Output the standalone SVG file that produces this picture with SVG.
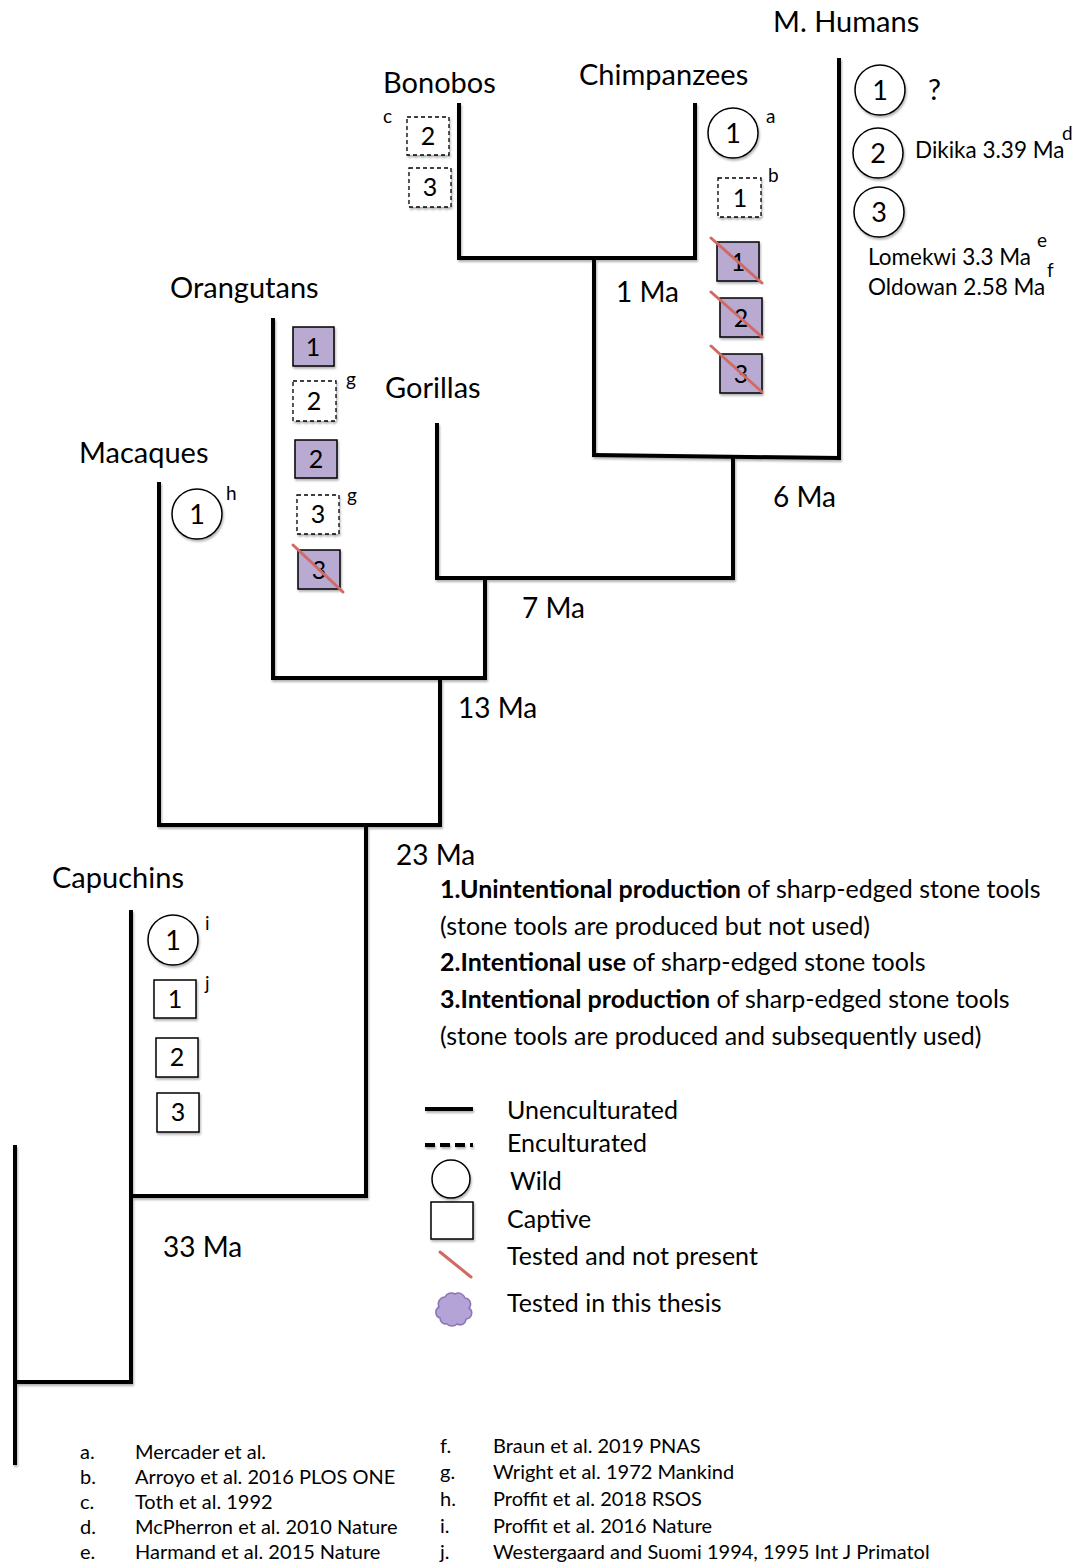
<svg xmlns="http://www.w3.org/2000/svg" width="1090" height="1566" viewBox="0 0 1090 1566">
<defs>
<filter id="sh" x="-20%" y="-20%" width="140%" height="140%">
<feDropShadow dx="1" dy="2" stdDeviation="1.2" flood-color="#000" flood-opacity="0.3"/>
</filter>
</defs>
<style>
text{font-family:Lato,"Noto Sans","Liberation Sans",sans-serif;fill:#000}
.sp{font-size:29px}
.age{font-size:28px}
.num{font-size:27px;text-anchor:middle}
.bn{font-size:25px;text-anchor:middle}
.sup{font-size:19px}
.small{font-size:22.5px}
.leg{font-size:25px}
.para{font-size:25px}
.fn{font-size:20px}
.tree{fill:none;stroke:#000;stroke-width:4;stroke-linecap:square}
.circ{fill:#fff;stroke:#000;stroke-width:1.5}
.solid{fill:#fff;stroke:#000;stroke-width:1.5}
.dash{fill:#fff;stroke:#000;stroke-width:1.3;stroke-dasharray:4 3}
.pur{fill:#b9aad2;stroke:#000;stroke-width:1.5}
.x{stroke:#d06a63;stroke-width:3;stroke-linecap:round}
</style>

<g id="connectors" filter="url(#sh)">
<path class="tree" d="M459,105 V258 H695 V105"/>
<path class="tree" d="M594,258 V455"/>
<path class="tree" d="M594,455 L839,458"/>
<path class="tree" d="M839,60 V458"/>
<path class="tree" d="M733,458 V578"/>
<path class="tree" d="M437,425 V578 H733"/>
<path class="tree" d="M485,578 V678"/>
<path class="tree" d="M273,320 V678 H485"/>
<path class="tree" d="M440,678 V825"/>
<path class="tree" d="M159,484 V825 H440"/>
<path class="tree" d="M366,825 V1196 H131"/>
<path class="tree" d="M131,912 V1382"/>
<path class="tree" d="M15,1147 V1463"/>
<path class="tree" d="M15,1382 H131"/>
</g>

<g id="humans">
<text class="sp" x="773" y="32">M. Humans</text>
<g filter="url(#sh)">
<circle class="circ" cx="880" cy="90" r="25"/>
<circle class="circ" cx="878" cy="153" r="25"/>
<circle class="circ" cx="879" cy="212" r="25"/>
</g>
<text class="num" x="880" y="100">1</text>
<text class="num" x="878" y="163">2</text>
<text class="num" x="879" y="222">3</text>
<text class="sp" x="928" y="100">?</text>
<text class="small" x="915" y="158">Dikika 3.39 Ma</text>
<text class="sup" x="1062" y="140">d</text>
<text class="small" x="868" y="265">Lomekwi 3.3 Ma</text>
<text class="sup" x="1037" y="247">e</text>
<text class="small" x="868" y="295">Oldowan 2.58 Ma</text>
<text class="sup" x="1047" y="277">f</text>
</g>

<g id="bonobos">
<text class="sp" x="383" y="93">Bonobos</text>
<text class="sup" x="383" y="123">c</text>
<g filter="url(#sh)">
<rect class="dash" x="407" y="117" width="42" height="38"/>
<rect class="dash" x="409" y="168" width="42" height="39"/>
</g>
<text class="bn" x="428" y="145">2</text>
<text class="bn" x="430" y="196">3</text>
</g>

<g id="chimpanzees">
<text class="sp" x="579" y="85">Chimpanzees</text>
<g filter="url(#sh)">
<circle class="circ" cx="733" cy="133" r="25"/>
<rect class="dash" x="718" y="178" width="43" height="39"/>
<rect class="pur" x="717" y="242" width="42" height="39"/>
<rect class="pur" x="720" y="298" width="42" height="39"/>
<rect class="pur" x="720" y="354" width="42" height="39"/>
</g>
<text class="num" x="733" y="143">1</text>
<text class="sup" x="766" y="123">a</text>
<text class="bn" x="740" y="207">1</text>
<text class="sup" x="768" y="182">b</text>
<text class="bn" x="738" y="271">1</text>
<text class="bn" x="741" y="327">2</text>
<text class="bn" x="741" y="383">3</text>
<line class="x" x1="711" y1="238" x2="762" y2="283"/>
<line class="x" x1="711" y1="292" x2="762" y2="337"/>
<line class="x" x1="711" y1="346" x2="762" y2="392"/>
<text class="age" x="616" y="302">1 Ma</text>
</g>

<g id="gorillas">
<text class="sp" x="385" y="398">Gorillas</text>
<text class="age" x="773" y="507">6 Ma</text>
</g>

<g id="orangutans">
<text class="sp" x="170" y="298">Orangutans</text>
<g filter="url(#sh)">
<rect class="pur" x="293" y="327" width="41" height="39"/>
<rect class="dash" x="293" y="381" width="43" height="40"/>
<rect class="pur" x="295" y="440" width="42" height="38"/>
<rect class="dash" x="297" y="495" width="42" height="39"/>
<rect class="pur" x="298" y="550" width="42" height="39"/>
</g>
<text class="bn" x="313" y="356">1</text>
<text class="bn" x="314" y="410">2</text>
<text class="sup" x="346" y="386">g</text>
<text class="bn" x="316" y="468">2</text>
<text class="bn" x="318" y="523">3</text>
<text class="sup" x="347" y="502">g</text>
<text class="bn" x="319" y="579">3</text>
<line class="x" x1="293" y1="545" x2="343" y2="592"/>
<text class="age" x="522" y="618">7 Ma</text>
</g>

<g id="macaques">
<text class="sp" x="79" y="463">Macaques</text>
<g filter="url(#sh)"><circle class="circ" cx="197" cy="514" r="25"/></g>
<text class="num" x="197" y="524">1</text>
<text class="sup" x="226" y="500">h</text>
<text class="age" x="458" y="718">13 Ma</text>
</g>

<g id="capuchins">
<text class="sp" x="52" y="888">Capuchins</text>
<g filter="url(#sh)">
<circle class="circ" cx="173" cy="940" r="25"/>
<rect class="solid" x="154" y="980" width="42" height="38"/>
<rect class="solid" x="156" y="1038" width="42" height="39"/>
<rect class="solid" x="157" y="1093" width="42" height="39"/>
</g>
<text class="num" x="173" y="950">1</text>
<text class="sup" x="205" y="930">i</text>
<text class="bn" x="175" y="1008">1</text>
<text class="sup" x="205" y="990">j</text>
<text class="bn" x="177" y="1066">2</text>
<text class="bn" x="178" y="1121">3</text>
<text class="age" x="396" y="865">23 Ma</text>
<text class="age" x="163" y="1257">33 Ma</text>
</g>

<g id="legend">
<text class="para" x="440" y="898"><tspan font-weight="bold">1.Unintentional production</tspan> of sharp-edged stone tools</text>
<text class="para" x="440" y="935">(stone tools are produced but not used)</text>
<text class="para" x="440" y="971"><tspan font-weight="bold">2.Intentional use</tspan> of sharp-edged stone tools</text>
<text class="para" x="440" y="1008"><tspan font-weight="bold">3.Intentional production</tspan> of sharp-edged stone tools</text>
<text class="para" x="440" y="1045">(stone tools are produced and subsequently used)</text>
<g filter="url(#sh)">
<line x1="425" y1="1109" x2="473" y2="1109" stroke="#000" stroke-width="4"/>
<line x1="425" y1="1145" x2="473" y2="1145" stroke="#000" stroke-width="4" stroke-dasharray="10 5"/>
<circle class="circ" cx="451" cy="1179" r="19"/>
<rect class="solid" x="431" y="1202" width="42" height="37"/>
</g>
<line class="x" x1="440" y1="1252" x2="471" y2="1277"/>
<path d="M440,1318 a6,6 0 0 1 -1,-11 a7,7 0 0 1 6,-10 a7,7 0 0 1 10,-3 a7,7 0 0 1 10,4 a6,6 0 0 1 4,10 a6,6 0 0 1 -3,11 a6,6 0 0 1 -9,5 a7,7 0 0 1 -10,0 a6,6 0 0 1 -7,-6 z" fill="#b4a3d6" stroke="#8b74b8" stroke-width="1.5"/>
<text class="leg" x="507" y="1119">Unenculturated</text>
<text class="leg" x="507" y="1152">Enculturated</text>
<text class="leg" x="510" y="1190">Wild</text>
<text class="leg" x="507" y="1228">Captive</text>
<text class="leg" x="507" y="1265">Tested and not present</text>
<text class="leg" x="507" y="1312">Tested in this thesis</text>
</g>

<g id="footnotes">
<text class="fn" x="80" y="1459">a.</text><text class="fn" x="135" y="1459">Mercader et al.</text>
<text class="fn" x="80" y="1484">b.</text><text class="fn" x="135" y="1484">Arroyo et al. 2016 PLOS ONE</text>
<text class="fn" x="80" y="1509">c.</text><text class="fn" x="135" y="1509">Toth et al. 1992</text>
<text class="fn" x="80" y="1534">d.</text><text class="fn" x="135" y="1534">McPherron et al. 2010 Nature</text>
<text class="fn" x="80" y="1559">e.</text><text class="fn" x="135" y="1559">Harmand et al. 2015 Nature</text>
<text class="fn" x="440" y="1453">f.</text><text class="fn" x="493" y="1453">Braun et al. 2019 PNAS</text>
<text class="fn" x="440" y="1479">g.</text><text class="fn" x="493" y="1479">Wright et al. 1972 Mankind</text>
<text class="fn" x="440" y="1506">h.</text><text class="fn" x="493" y="1506">Proffit et al. 2018 RSOS</text>
<text class="fn" x="440" y="1533">i.</text><text class="fn" x="493" y="1533">Proffit et al. 2016 Nature</text>
<text class="fn" x="440" y="1559">j.</text><text class="fn" x="493" y="1559">Westergaard and Suomi 1994, 1995 Int J Primatol</text>
</g>
</svg>
